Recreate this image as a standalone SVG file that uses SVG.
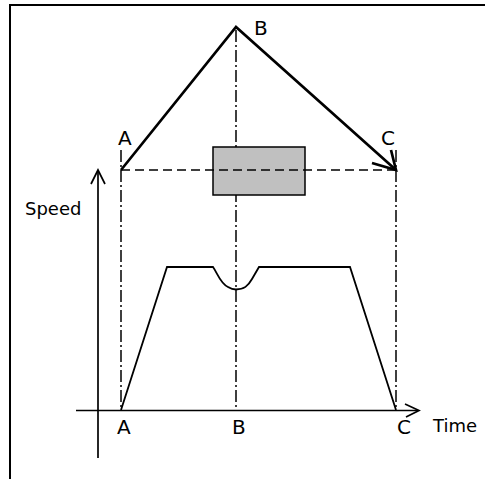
<svg xmlns="http://www.w3.org/2000/svg" width="485" height="479" viewBox="0 0 485 479">
<style>
.lbl{font-family:"DejaVu Sans",sans-serif;font-size:20px;fill:#000}
.ax{font-family:"DejaVu Sans",sans-serif;font-size:18px;fill:#000}
.dd{stroke:#000;stroke-width:1.5;fill:none;stroke-dasharray:12 3 2 3}
.ln{stroke:#000;fill:none}
</style>
<rect width="485" height="479" fill="#fff"/>
<path d="M10,479 V5 H485" class="ln" stroke-width="2"/>
<g id="connectors">
<line x1="121" y1="150" x2="121" y2="410" class="dd"/>
<line x1="236" y1="30" x2="236" y2="410" class="dd"/>
<line x1="396" y1="150" x2="396" y2="410" class="dd"/>
</g>
<g id="block">
<rect x="213" y="147" width="92" height="48" fill="#c0c0c0" stroke="#000" stroke-width="1.5"/>
</g>
<g id="path-top">
<line x1="121" y1="170" x2="396" y2="170" class="ln" stroke-width="1.5" stroke-dasharray="9 5"/>
<path d="M121,170 L236,27 L396,170" class="ln" stroke-width="2.7" stroke-linejoin="miter"/>
<path d="M372,163 L396,170 L391,150" class="ln" stroke-width="2.7"/>
</g>
<g id="axes">
<line x1="98" y1="458" x2="98" y2="171" class="ln" stroke-width="1.7"/>
<path d="M91,184 L98,170 L105,184" class="ln" stroke-width="1.7"/>
<line x1="76" y1="410.5" x2="418" y2="410.5" class="ln" stroke-width="1.7"/>
<path d="M405,404 L419,410.5 L406,417" class="ln" stroke-width="1.7"/>
</g>
<g id="profile">
<path d="M121,410 L167,267 L213,267 C218,274 220,283 228,287 Q232,289.5 236,289.5 C244,289.5 248,286 252,279 L259,267 L350,267 L396,410" class="ln" stroke-width="1.8" stroke-linejoin="miter"/>
</g>
<g id="labels">
<text x="118" y="145" class="lbl">A</text>
<text x="254" y="35" class="lbl">B</text>
<text x="381" y="145" class="lbl">C</text>
<text x="117" y="434" class="lbl">A</text>
<text x="232" y="434" class="lbl">B</text>
<text x="397" y="434" class="lbl">C</text>
<text x="25" y="215" class="ax">Speed</text>
<text x="433" y="432" class="ax">Time</text>
</g>
</svg>
